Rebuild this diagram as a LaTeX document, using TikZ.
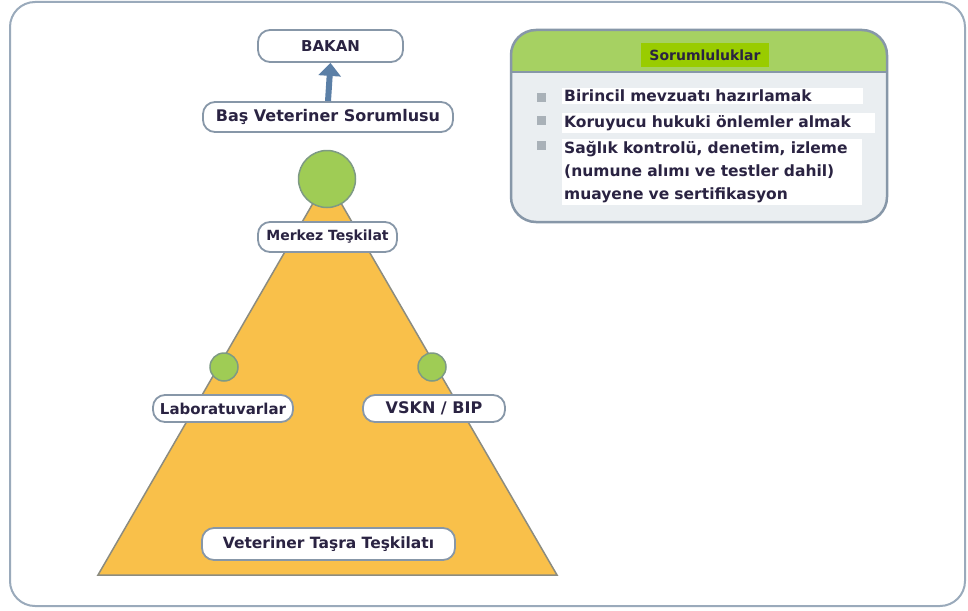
\documentclass[tikz,border=0pt]{standalone}
\usepackage{fontspec}
\setmainfont{DejaVu Sans}
\usetikzlibrary{arrows.meta}

\definecolor{framegray}{HTML}{9AAABB}
\definecolor{boxline}{HTML}{8797A8}
\definecolor{ink}{HTML}{2A2342}
\definecolor{pyramidfill}{HTML}{F9C04A}
\definecolor{pyramidline}{HTML}{8C8C80}
\definecolor{dotfill}{HTML}{9FCC55}
\definecolor{dotline}{HTML}{7E9A84}
\definecolor{arrowblue}{HTML}{5B7FA6}
\definecolor{headgreen}{HTML}{A6D162}
\definecolor{markgreen}{HTML}{99CC00}
\definecolor{panelgray}{HTML}{EAEEF1}
\definecolor{bulletgray}{HTML}{A9B1B8}

\newcommand{\lblsize}{\fontsize{15}{18}\selectfont\bfseries}
\newcommand{\itemsize}{\fontsize{15.5}{23}\selectfont\bfseries}

\begin{document}
\begin{tikzpicture}[x=1pt, y=-1pt,
    every node/.style={text=ink},
    lbl/.style={draw=boxline, line width=1.8pt, fill=white, rounded corners=12pt,
        inner sep=0pt, font=\lblsize},
    dot/.style={circle, draw=dotline, line width=1.5pt, fill=dotfill, inner sep=0pt},
    bullet/.style={fill=bulletgray, minimum size=9pt, inner sep=0pt},
    item/.style={fill=white, anchor=north west, inner sep=2pt, align=left, font=\itemsize},
    ]
    \useasboundingbox (0,0) rectangle (968,610);
    % outer frame
    \draw[framegray, line width=2pt, rounded corners=25pt, fill=white] (10,2) rectangle (965,606);

    % pyramid
    \draw[pyramidline, line width=1.5pt, fill=pyramidfill] (327,179) -- (557,575) -- (98,575) -- cycle;
    \node[dot, minimum size=57pt] (top) at (327,179) {};
    \node[dot, minimum size=28pt] (leftdot) at (224,367) {};
    \node[dot, minimum size=28pt] (rightdot) at (432,367) {};

    % labels
    \node[lbl, minimum width=145pt, minimum height=32pt] (bakan) at (330.5,46) {BAKAN};
    \node[lbl, minimum width=250pt, minimum height=30pt, font=\fontsize{16}{19}\selectfont\bfseries] (bas) at (328,117) {Baş Veteriner Sorumlusu};
    \node[lbl, minimum width=139pt, minimum height=30pt, font=\fontsize{14}{17}\selectfont\bfseries] (merkez) at (327.5,237) {Merkez Teşkilat};
    \node[lbl, minimum width=140pt, minimum height=27pt] (lab) at (223,408.5) {Laboratuvarlar};
    \node[lbl, minimum width=142pt, minimum height=27pt, font=\fontsize{16}{19}\selectfont\bfseries] (vskn) at (434,408.5) {VSKN / BIP};
    \node[lbl, minimum width=253pt, minimum height=32pt, font=\fontsize{15.5}{18}\selectfont\bfseries] (tasra) at (328.5,544) {Veteriner Taşra Teşkilatı};

    \draw[arrowblue, line width=6pt, -{Triangle[width=22pt,length=13pt]}] (bas.north) -- (bakan.south);

    % responsibilities panel
    \begin{scope}
        \clip[rounded corners=25pt] (511,30) rectangle (887,222);
        \fill[panelgray] (511,30) rectangle (887,222);
        \fill[headgreen] (511,30) rectangle (887,72);
        \draw[boxline, line width=1.5pt] (511,72) -- (887,72);
    \end{scope}
    \draw[boxline, line width=2.5pt, rounded corners=25pt] (511,30) rectangle (887,222);
    \node[fill=markgreen, minimum width=128pt, minimum height=24pt, inner sep=0pt,
        font=\fontsize{14}{17}\selectfont\bfseries] (head) at (705,55) {Sorumluluklar};

    \node[bullet] (b1) at (541,97) {};
    \node[bullet] (b2) at (541,120) {};
    \node[bullet] (b3) at (541,145) {};
    \node[item, text width=297pt] (i1) at (562,88) {Birincil mevzuatı hazırlamak};
    \node[item, text width=309pt] (i2) at (562,113) {Koruyucu hukuki önlemler almak};
    \node[item, text width=296pt] (i3) at (562,139) {Sağlık kontrolü, denetim, izleme\\(numune alımı ve testler dahil)\\muayene ve sertifikasyon};
\end{tikzpicture}
\end{document}
